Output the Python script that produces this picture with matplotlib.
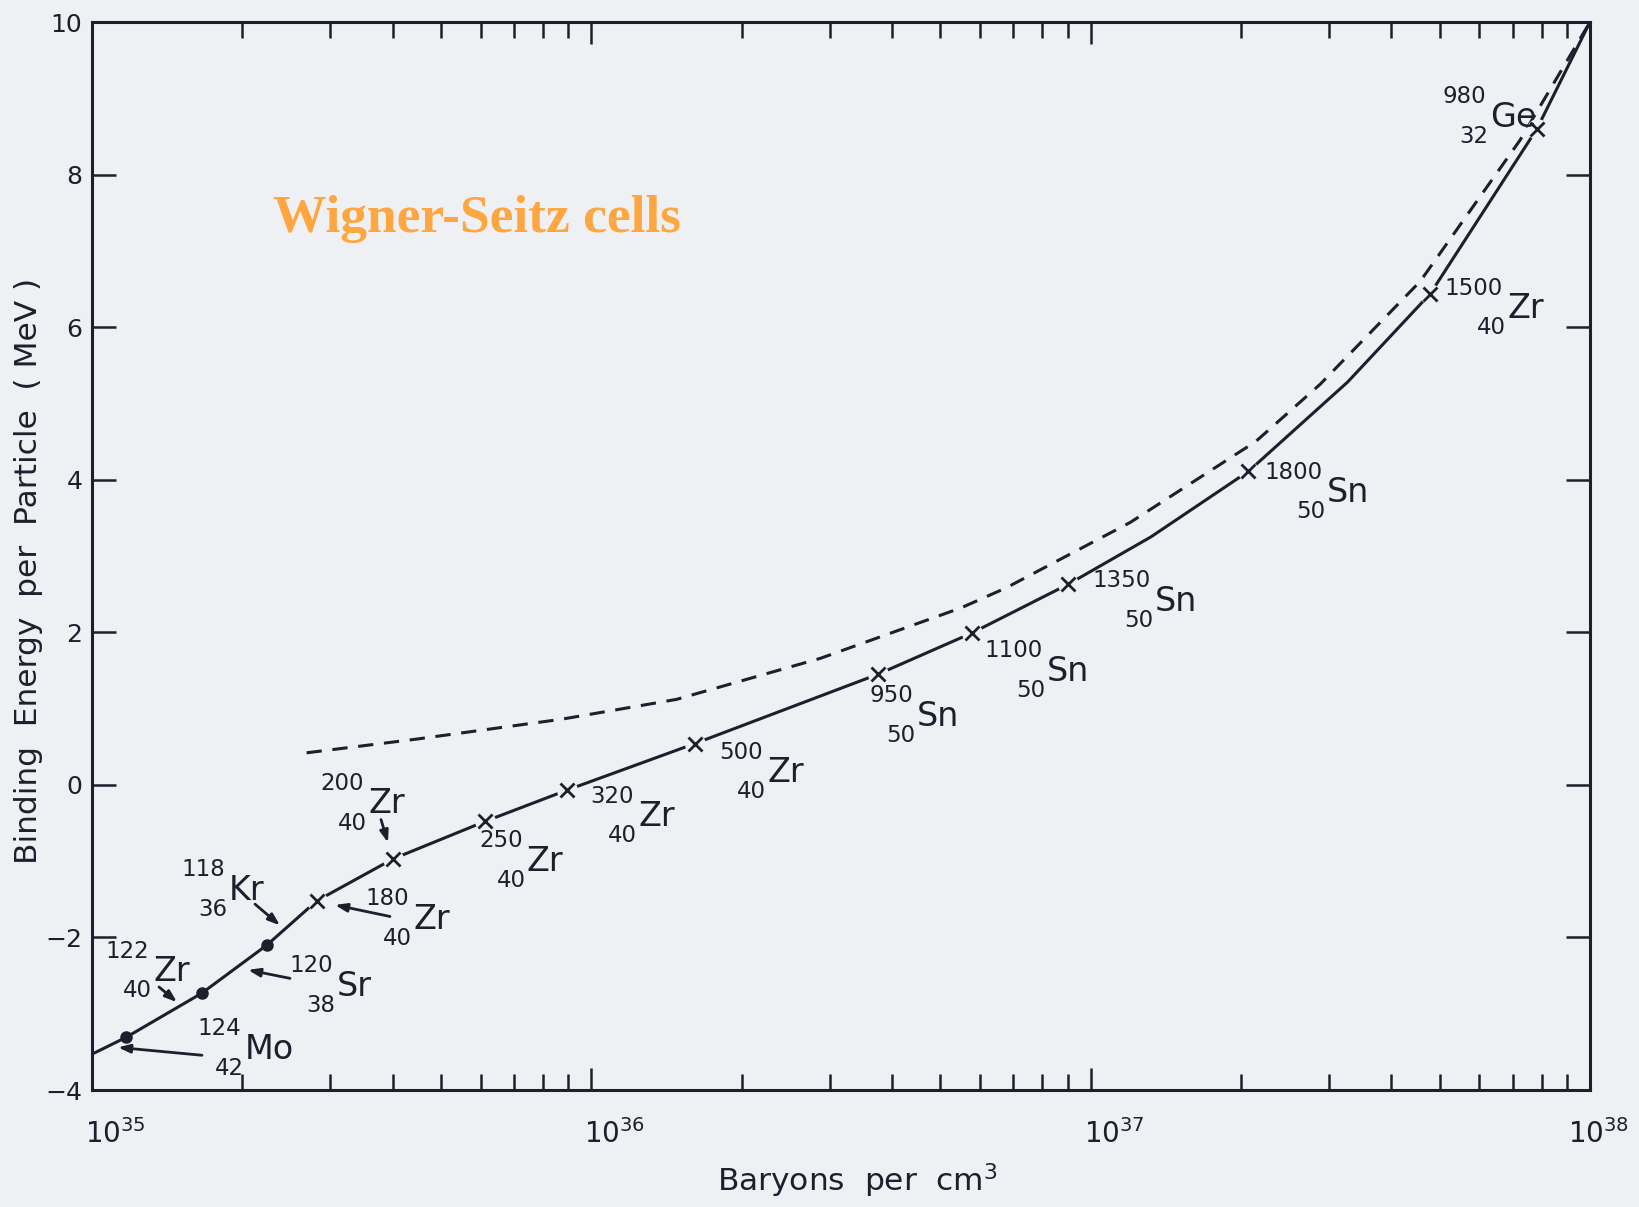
import numpy as np
import matplotlib
matplotlib.use("Agg")
import matplotlib.pyplot as plt
from matplotlib.transforms import offset_copy, ScaledTranslation

# ---------------- data ----------------
# solid curve: binding energy per particle (MeV) vs baryon density (cm^-3)
solid_density = [1.0e35, 1.17e35, 1.66e35, 2.24e35, 2.82e35, 4.01e35, 6.12e35, 8.93e35,
                 1.61e36, 3.75e36, 5.78e36, 9.02e36, 1.32e37, 2.07e37, 3.27e37, 4.79e37,
                 7.83e37, 1.0e38]
solid_energy = [-3.53, -3.31, -2.73, -2.10, -1.52, -0.97, -0.48, -0.07,
                0.54, 1.45, 1.99, 2.63, 3.25, 4.11, 5.28, 6.44,
                8.60, 10.0]

# dashed curve
dashed_density = [2.69e35, 4.47e35, 8.71e35, 1.48e36, 2.88e36, 5.50e36, 6.76e36,
                  1.20e37, 2.14e37, 2.88e37, 4.57e37, 7.24e37, 1.0e38]
dashed_energy = [0.42, 0.60, 0.86, 1.12, 1.66, 2.32, 2.58,
                 3.44, 4.50, 5.25, 6.60, 8.45, 10.0]

# nuclei marked with dots (124Mo, 122Zr, 118Kr)
dot_density = [1.17e35, 1.66e35, 2.24e35]
dot_energy = [-3.31, -2.73, -2.10]

# nuclei marked with crosses
cross_density = [2.82e35, 4.01e35, 6.12e35, 8.93e35, 1.61e36, 3.75e36, 5.78e36,
                 9.02e36, 2.07e37, 4.79e37, 7.83e37]
cross_energy = [-1.52, -0.97, -0.48, -0.07, 0.54, 1.45, 1.99, 2.63, 4.11, 6.44, 8.60]

# isotope labels: mass number, charge number, symbol
iso_A = ["118", "180", "122", "120", "124", "200", "250", "320", "500",
         "950", "1100", "1350", "1800", "1500", "980"]
iso_Z = ["36", "40", "40", "38", "42", "40", "40", "40", "40",
         "50", "50", "50", "50", "40", "32"]
iso_sym = ["Kr", "Zr", "Zr", "Sr", "Mo", "Zr", "Zr", "Zr", "Zr",
           "Sn", "Sn", "Sn", "Sn", "Zr", "Ge"]

x_major = [1e35, 1e36, 1e37, 1e38]
x_major_labels = ["$10^{35}$", "$10^{36}$", "$10^{37}$", "$10^{38}$"]
y_ticks = [-4, -2, 0, 2, 4, 6, 8, 10]

# ---------------- layout / style ----------------
W, H = 1639, 1207
bg = "#eff0f4"
ink = "#1d1f2c"

plt.rcParams["font.family"] = ["DejaVu Sans"]
plt.rcParams["mathtext.fontset"] = "dejavusans"

fig = plt.figure(figsize=(W / 100, H / 100), dpi=100, facecolor=bg)
L, R, T, B = 92, 1590, 22, 1090
ax = fig.add_axes([L / W, 1 - B / H, (R - L) / W, (B - T) / H])
ax.set_facecolor(bg)
ax.set_xscale("log")
ax.set_xlim(1e35, 1e38)
ax.set_ylim(-4, 10)

for s in ax.spines.values():
    s.set_linewidth(2.2)
    s.set_color(ink)

ax.set_xticks(x_major)
ax.set_xticklabels(x_major_labels, ha="left")
ax.xaxis.set_minor_locator(matplotlib.ticker.LogLocator(base=10, subs=np.arange(2, 10)))
ax.xaxis.set_minor_formatter(matplotlib.ticker.NullFormatter())
ax.set_yticks(y_ticks)
ax.tick_params(axis="x", which="major", direction="in", top=True, bottom=True,
               length=16, width=1.8, color=ink, labelsize=20, labelcolor=ink, pad=21)
ax.tick_params(axis="x", which="minor", direction="in", top=True, bottom=True,
               length=11.5, width=1.8, color=ink)
ax.tick_params(axis="y", which="major", direction="in", left=True, right=True,
               length=17, width=1.8, color=ink, labelsize=18, labelcolor=ink, pad=7)
xlabels = ax.get_xticklabels()
for i, lbl in enumerate(xlabels):
    shift = -5 if i < len(xlabels) - 1 else -16
    lbl.set_transform(lbl.get_transform() + ScaledTranslation(shift / 72, 0, fig.dpi_scale_trans))

ax.set_ylabel("Binding  Energy  per  Particle  ( MeV )", fontsize=22.5, color=ink)
ax.yaxis.set_label_coords(-0.033, 0.486)
ax.set_xlabel("Baryons  per  cm$^3$", fontsize=22.5, color=ink)
ax.xaxis.set_label_coords(0.511, -0.067)

# ---------------- curves ----------------
ax.plot(solid_density, solid_energy, color=ink, lw=2.2, zorder=2, solid_joinstyle="round")
ax.plot(dashed_density, dashed_energy, color=ink, lw=2.2, dashes=(5, 3.5), zorder=2)
# small gaps of the line around the crosses
ax.plot(cross_density, cross_energy, "o", ms=15, color=bg, mec="none", zorder=3)
ax.plot(cross_density, cross_energy, "x", ms=9.5, mew=2.0, color=ink, zorder=4)
ax.plot(dot_density, dot_energy, "o", ms=8, color=ink, zorder=4)


# reference-pixel position -> data coordinates (used for label placement only)
def at(px, py):
    t = (px - 92) / 1498
    top = 27 - 10 * t
    bot = 1098 - 16 * t
    return 10 ** (35 + 3 * t), -4 + 14 * (bot - py) / (bot - top)


label_pos = [(229, 893), (413, 920), (153, 975), (337, 988), (245, 1052), (368, 805),
             (527, 861), (638, 815), (767, 770), (917, 712), (1047, 666), (1155, 595),
             (1327, 485), (1507, 300), (1490, 109)]

sup_tr = offset_copy(ax.transData, fig=fig, x=-3, y=14, units="points")
sub_tr = offset_copy(ax.transData, fig=fig, x=-1, y=-14.5, units="points")
for (px, py), A, Z, sym in zip(label_pos, iso_A, iso_Z, iso_sym):
    x, y = at(px, py)
    ax.text(x, y, sym, fontsize=24, ha="left", va="center_baseline", color=ink, zorder=5)
    ax.text(x, y, A, fontsize=16.5, ha="right", va="center_baseline", color=ink,
            transform=sup_tr, zorder=5)
    ax.text(x, y, Z, fontsize=16.5, ha="right", va="center_baseline", color=ink,
            transform=sub_tr, zorder=5)

arrows = [((202, 1062), (118, 1055)), ((159, 994), (177, 1009)), ((290, 984), (248, 976)),
          ((255, 910), (280, 931)), ((390, 921), (335, 910)), ((381, 824), (388, 847))]
for tail, head in arrows:
    ax.annotate("", xy=at(*head), xytext=at(*tail),
                arrowprops=dict(arrowstyle="-|>,head_length=0.7,head_width=0.25",
                                color=ink, lw=2.0, shrinkA=0, shrinkB=0), zorder=5)

fig.text(477 / W, 1 - 219 / H, "Wigner-Seitz cells", fontsize=38.5,
         family="Liberation Serif", weight="bold", color="#FEA63F", ha="center", va="center")

fig.savefig("out.png", dpi=100, facecolor=bg)
